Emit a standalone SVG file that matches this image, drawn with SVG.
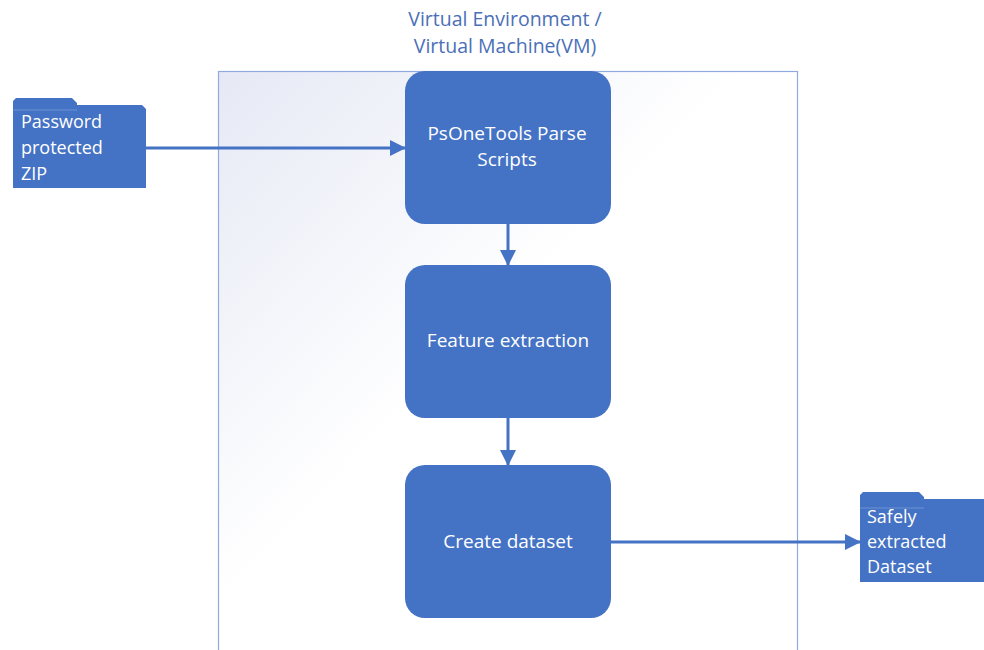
<svg xmlns="http://www.w3.org/2000/svg" width="984" height="650" viewBox="0 0 984 650">
<defs>
<linearGradient id="bg" x1="0" y1="0" x2="1" y2="1" gradientUnits="objectBoundingBox">
<stop offset="0" stop-color="#e6e9f5"/>
<stop offset="0.45" stop-color="#ffffff"/>
<stop offset="1" stop-color="#ffffff"/>
</linearGradient>
<marker id="ah2" markerWidth="16" markerHeight="16" refX="15" refY="8" orient="auto" markerUnits="userSpaceOnUse">
<path d="M0,0 L16,8 L0,16 Z" fill="#4472c4"/>
</marker>
<style>
.box{fill:#4472c4;}
.wt{fill:#ffffff;font-family:"Open Sans","Noto Sans",sans-serif;font-size:19px;}
.ft{fill:#ffffff;font-family:"Open Sans","Noto Sans",sans-serif;font-size:18px;}
.title{fill:#4a6fb8;font-family:"Open Sans","Noto Sans",sans-serif;font-size:19.5px;}
.conn{stroke:#4472c4;stroke-width:3;fill:none;}
.folderline{stroke:#6f92d6;stroke-width:1;fill:none;}
</style>
</defs>
<rect width="984" height="650" fill="#ffffff"/>
<g id="container">
<rect x="218.5" y="71.5" width="579" height="590" fill="url(#bg)" stroke="#8faadc" stroke-width="1.2"/>
<text class="title" x="505" y="26" text-anchor="middle">Virtual Environment /</text>
<text class="title" x="505" y="53" text-anchor="middle">Virtual Machine(VM)</text>
</g>
<g id="connectors">
<line class="conn" x1="146" y1="148" x2="405" y2="148" marker-end="url(#ah2)"/>
<line class="conn" x1="508" y1="224" x2="508" y2="265" marker-end="url(#ah2)"/>
<line class="conn" x1="508" y1="418" x2="508" y2="465" marker-end="url(#ah2)"/>
<line class="conn" x1="611" y1="542" x2="860" y2="542" marker-end="url(#ah2)"/>
</g>
<g id="zip">
<path class="box" d="M13,107 L13,101 L16,98 L72,98 L77,103 L77,105 L142,105 L146,109 L146,188 L13,188 Z"/>
<line class="folderline" x1="13" y1="110" x2="77" y2="110"/>
<text class="ft" x="21" y="128">Password</text>
<text class="ft" x="21" y="154">protected</text>
<text class="ft" x="21" y="180">ZIP</text>
</g>
<g id="parse">
<rect class="box" x="405" y="71" width="206" height="153" rx="20"/>
<text class="wt" x="507" y="140" text-anchor="middle">PsOneTools Parse</text>
<text class="wt" x="507" y="166" text-anchor="middle">Scripts</text>
</g>
<g id="features">
<rect class="box" x="405" y="265" width="206" height="153" rx="20"/>
<text class="wt" x="508" y="347" text-anchor="middle">Feature extraction</text>
</g>
<g id="dataset">
<rect class="box" x="405" y="465" width="206" height="153" rx="20"/>
<text class="wt" x="508" y="548" text-anchor="middle">Create dataset</text>
</g>
<g id="safe">
<path class="box" d="M860,501 L860,495 L863,492 L919,492 L924,497 L924,499 L984,499 L984,582 L860,582 Z"/>
<line class="folderline" x1="860" y1="508" x2="924" y2="508"/>
<text class="ft" x="867" y="523">Safely</text>
<text class="ft" x="867" y="548">extracted</text>
<text class="ft" x="867" y="573">Dataset</text>
</g>
</svg>
